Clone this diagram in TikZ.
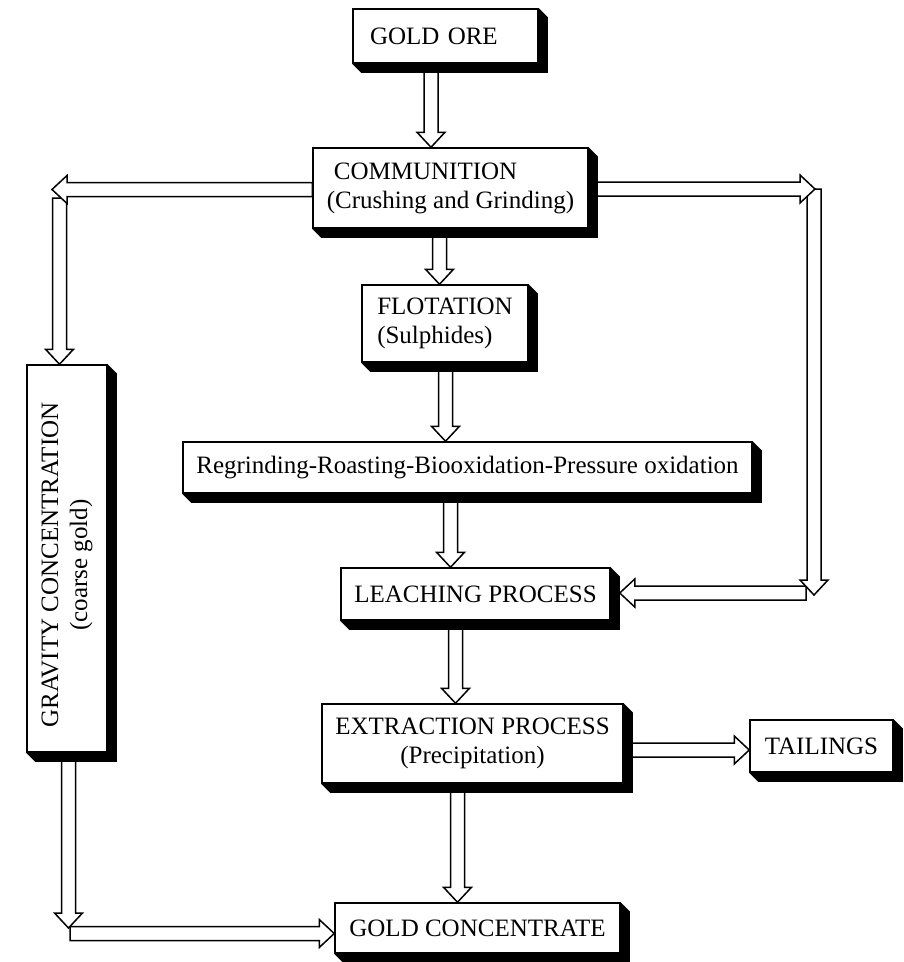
\documentclass[tikz,border=0pt]{standalone}
\usepackage{fontspec}
\setmainfont{Liberation Serif}
\usetikzlibrary{decorations.markings}
\pgfdeclarelayer{bg}
\pgfsetlayers{bg,main}
\tikzset{
  box/.style={draw, fill=white, line width=1.5pt, inner sep=0pt, font=\fontsize{25}{29}\selectfont},
  hollow/.style={postaction={decorate, decoration={markings, mark=at position 1 with {
     \filldraw[fill=white, draw=black, line width=1.5pt, line join=miter]
       ({-\pgfdecoratedpathlength},7pt) -- (-15pt,7pt) -- (-15pt,14pt) -- (0pt,0pt)
       -- (-15pt,-14pt) -- (-15pt,-7pt) -- ({-\pgfdecoratedpathlength},-7pt) -- cycle;
  }}}},
}
\newcommand\boxshadow[1]{%
  \fill[black] (#1.north east) -- ([shift={(9pt,-9pt)}]#1.north east)
    -- ([shift={(9pt,-9pt)}]#1.south east) -- ([shift={(9pt,-9pt)}]#1.south west)
    -- (#1.south west) -- cycle;}
\begin{document}
\begin{tikzpicture}[x=1pt,y=-1pt]
\useasboundingbox (0,0) rectangle (904,962);
% boxes
\node[box, minimum width=185pt, minimum height=54pt, text width=151pt, align=left] (ore) at (445.5,36) {GOLD ORE};
\node[box, minimum width=275pt, minimum height=80pt, align=left] (comm) at (450.5,188) {\hspace{7pt}COMMUNITION\\(Crushing and Grinding)};
\node[box, minimum width=166pt, minimum height=77pt, align=left] (flot) at (445,323.5) {FLOTATION\\(Sulphides)};
\node[box, minimum width=569pt, minimum height=51pt] (regr) at (467.5,467.5) {Regrinding-Roasting-Biooxidation-Pressure oxidation};
\node[box, minimum width=269pt, minimum height=52pt] (leach) at (475.5,594) {LEACHING PROCESS};
\node[box, minimum width=301pt, minimum height=79pt, align=center] (extr) at (472.5,743.5) {EXTRACTION PROCESS\\(Precipitation)};
\node[box, minimum width=143pt, minimum height=52pt] (tail) at (821.5,746) {TAILINGS};
\node[box, minimum width=285pt, minimum height=50pt] (conc) at (477.5,928) {GOLD CONCENTRATE};
\node[box, minimum width=80pt, minimum height=387pt] (grav) at (67,558.5) {};
\node[rotate=90, align=center, inner sep=0pt, font=\fontsize{25}{29}\selectfont] (gravtext) at (67,565) {GRAVITY CONCENTRATION\\(coarse gold)};
% column / turn coordinates
\coordinate (x1) at (431,0);
\coordinate (x2) at (439.5,0);
\coordinate (x3) at (445.5,0);
\coordinate (x4) at (450.5,0);
\coordinate (x5) at (455.5,0);
\coordinate (x6) at (457.5,0);
\coordinate (L1) at (52,189.5);
\coordinate (L2) at (59.5,198);
\coordinate (R1) at (815,189);
\coordinate (R2) at (814,189);
\coordinate (R3) at (814,595);
\coordinate (R4) at (806,593);
\coordinate (ls) at ([xshift=9pt]leach.east);
\coordinate (T) at (0,750);
\coordinate (G1) at (68.5,0);
\coordinate (G2) at (68.5,928);
\coordinate (G3) at (70,933.5);
\begin{pgfonlayer}{bg}
\path[hollow] (G3) -- (conc.west |- G3);
\path[hollow] (grav.south -| G1) -- (G2);
\path[hollow] (L2) -- (grav.north -| L2);
\path[hollow] (comm.west |- L1) -- (L1);
\path[hollow] (R4) -- (ls |- R4);
\path[hollow] (R2) -- (R3);
\path[hollow] (comm.east |- R1) -- (R1);
\path[hollow] (ore.south -| x1) -- (comm.north -| x1);
\path[hollow] (comm.south -| x2) -- (flot.north -| x2);
\path[hollow] (flot.south -| x3) -- (regr.north -| x3);
\path[hollow] (regr.south -| x4) -- (leach.north -| x4);
\path[hollow] (leach.south -| x5) -- (extr.north -| x5);
\path[hollow] (extr.south -| x6) -- (conc.north -| x6);
\path[hollow] (extr.east |- T) -- (tail.west |- T);
\foreach \n in {ore,comm,flot,regr,leach,extr,tail,conc,grav} {\boxshadow{\n}}
\end{pgfonlayer}
\end{tikzpicture}
\end{document}
